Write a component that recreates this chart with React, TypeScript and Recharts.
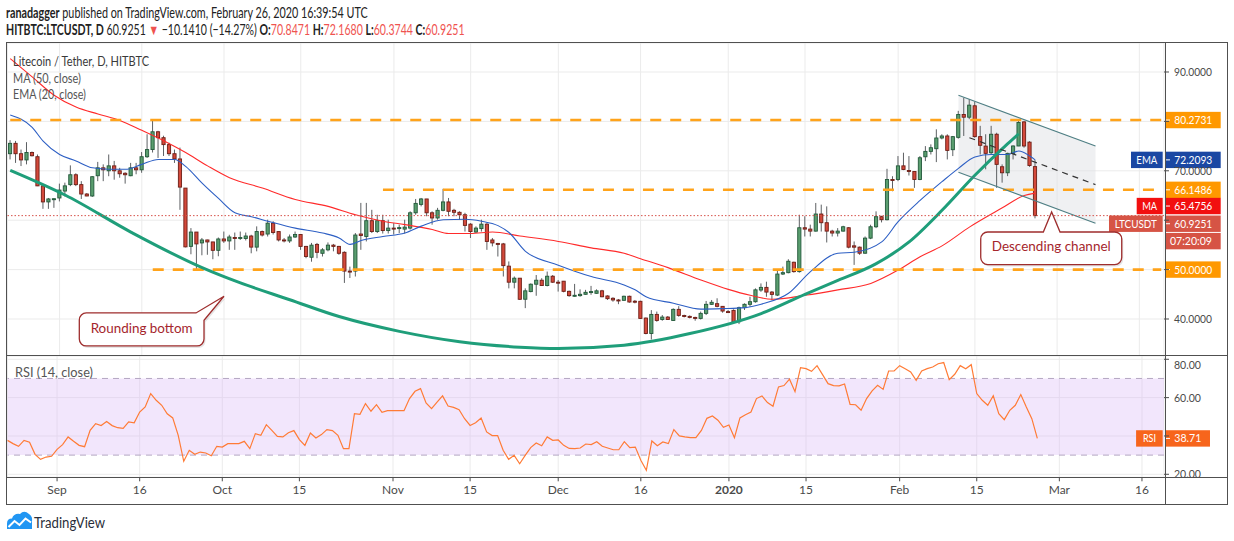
import React from 'react'
import { Area, Bar, CartesianGrid, ComposedChart, Line, ReferenceArea, ReferenceDot, ReferenceLine, XAxis, YAxis } from 'recharts'

// daily candles, 23 Aug 2019 .. 26 Feb 2020 (index 0 = 23 Aug)
const opens = [
  73.46, 75.56, 73.46, 72.2, 73.7, 72.85, 66.95, 63.7, 64.3, 64.5,
  65.9, 67.2, 69.2, 67.2, 65.3, 64.9, 69.0, 70.6, 70.0, 71.0,
  70.0, 69.5, 69.0, 70.6, 70.2, 72.85, 74.3, 77.9, 76.7, 75.3,
  73.46, 72.4, 66.5, 54.7, 57.6, 55.4, 56.0, 55.6, 53.9, 56.2,
  55.8, 56.5, 56.4, 56.3, 56.8, 54.55, 57.7, 57.2, 59.4, 57.7,
  56.0, 55.8, 56.6, 57.1, 54.7, 52.5, 55.1, 53.3, 54.0, 54.95,
  54.7, 53.5, 49.7, 49.7, 57.2, 56.7, 59.9, 57.7, 59.9, 57.9,
  58.4, 58.4, 58.2, 58.4, 61.5, 63.2, 64.3, 61.5, 60.45, 62.0,
  63.7, 62.0, 61.6, 61.1, 59.2, 57.6, 58.3, 59.2, 56.0, 55.3,
  55.2, 50.7, 47.45, 48.26, 44.0, 45.55, 47.04, 47.85, 46.77, 48.66,
  47.45, 47.65, 45.6, 44.8, 44.73, 45.0, 45.5, 45.2, 45.7, 44.66,
  44.19, 43.85, 43.78, 44.6, 43.6, 43.58, 40.19, 37.07, 40.93, 39.9,
  40.39, 39.71, 41.95, 40.7, 40.53, 40.32, 40.12, 41.14, 42.97, 43.1,
  42.56, 41.5, 41.75, 39.44, 42.29, 42.97, 43.5, 45.86, 46.4, 45.45,
  44.84, 49.1, 49.38, 51.49, 49.59, 58.47, 58.2, 57.79, 61.25, 59.49,
  57.79, 57.4, 57.79, 58.47, 54.81, 54.54, 53.32, 56.37, 58.67, 60.71,
  60.1, 68.23, 68.23, 71.0, 70.06, 69.86, 68.23, 72.84, 73.93, 74.47,
  76.64, 77.05, 74.27, 76.77, 81.39, 80.85, 83.16, 76.92, 75.0, 73.66,
  77.4, 70.82, 69.6, 73.53, 75.02, 79.9, 75.8, 70.8471,
]
const highs = [
  76.2, 76.05, 74.3, 75.8, 73.9, 73.3, 67.0, 64.5, 64.4, 67.4,
  67.6, 71.1, 69.5, 67.9, 65.5, 68.9, 71.8, 71.3, 73.3, 72.0,
  70.6, 69.7, 71.6, 71.6, 73.8, 77.4, 80.4, 78.1, 77.1, 75.7,
  74.3, 74.7, 66.5, 58.4, 57.6, 56.4, 56.05, 55.6, 56.5, 57.7,
  57.05, 57.5, 57.7, 57.5, 57.05, 58.75, 57.9, 60.1, 59.8, 57.7,
  56.4, 57.1, 57.7, 57.2, 54.8, 55.4, 55.4, 54.35, 55.5, 55.2,
  54.8, 53.7, 50.6, 57.4, 63.5, 63.5, 62.1, 61.1, 61.1, 60.1,
  59.4, 59.1, 60.1, 61.8, 64.3, 64.5, 64.3, 61.8, 62.5, 66.35,
  64.5, 62.3, 61.8, 61.5, 59.4, 58.75, 60.1, 59.4, 56.4, 55.4,
  55.4, 51.65, 48.6, 48.26, 46.2, 47.2, 48.9, 48.26, 49.6, 48.9,
  47.9, 47.7, 45.75, 47.1, 46.0, 45.9, 46.7, 46.0, 45.9, 44.8,
  44.4, 44.05, 44.73, 44.73, 43.85, 43.7, 40.3, 41.8, 41.5, 40.8,
  40.6, 42.15, 42.6, 40.87, 40.73, 40.46, 41.5, 43.65, 43.85, 44.19,
  42.63, 41.82, 41.95, 42.5, 43.17, 44.5, 46.2, 47.2, 47.55, 45.66,
  49.93, 50.6, 52.1, 51.6, 61.1, 60.8, 59.1, 63.49, 63.15, 62.8,
  58.06, 58.4, 58.87, 58.6, 55.69, 54.67, 56.7, 59.08, 61.79, 60.9,
  70.4, 68.9, 72.98, 73.66, 72.98, 69.9, 72.98, 75.0, 75.35, 78.4,
  77.39, 77.39, 77.05, 82.13, 84.8, 84.5, 84.0, 79.1, 77.4, 79.1,
  77.7, 71.3, 73.66, 75.16, 80.45, 80.1, 76.0, 72.168,
]
const lows = [
  72.3, 71.6, 70.96, 71.3, 72.9, 66.9, 62.3, 62.3, 62.5, 63.8,
  64.8, 66.9, 66.9, 64.3, 64.85, 64.7, 67.9, 67.9, 68.9, 68.2,
  68.6, 67.4, 68.9, 69.3, 69.6, 72.6, 73.7, 72.6, 73.0, 73.0,
  71.6, 62.1, 54.5, 53.1, 50.1, 52.9, 53.0, 52.1, 52.7, 55.4,
  54.0, 54.0, 56.0, 55.9, 53.3, 53.7, 56.7, 56.7, 57.1, 55.7,
  55.5, 55.4, 56.4, 54.0, 52.3, 51.6, 52.3, 52.65, 53.7, 53.7,
  53.0, 47.3, 48.3, 48.6, 54.0, 55.7, 57.4, 57.4, 57.3, 57.3,
  57.1, 57.4, 57.3, 58.1, 61.1, 62.8, 60.8, 59.1, 60.1, 61.8,
  60.8, 60.8, 60.1, 57.7, 56.4, 57.4, 57.7, 54.0, 54.7, 52.65,
  48.6, 46.2, 46.2, 43.85, 42.2, 45.4, 44.7, 46.7, 46.6, 47.3,
  45.55, 45.4, 44.5, 44.5, 44.5, 44.9, 44.9, 45.1, 44.4, 43.85,
  43.5, 43.0, 43.7, 43.3, 43.17, 40.0, 36.9, 35.85, 39.45, 39.65,
  39.8, 39.65, 40.46, 40.32, 40.12, 39.65, 39.9, 40.8, 42.83, 42.36,
  41.27, 41.27, 39.24, 38.97, 41.82, 42.5, 43.3, 45.5, 44.5, 43.8,
  44.64, 48.9, 49.25, 49.38, 49.38, 56.7, 56.7, 57.7, 57.7, 55.49,
  56.7, 56.7, 57.7, 54.3, 50.95, 52.98, 53.18, 56.16, 58.4, 59.55,
  59.96, 65.86, 67.9, 70.13, 69.05, 66.54, 68.1, 71.96, 73.3, 71.76,
  76.37, 72.3, 72.98, 76.5, 77.05, 80.44, 76.7, 73.3, 70.3, 73.3,
  66.55, 67.6, 68.92, 72.3, 75.0, 74.68, 70.8, 60.3744,
]
const closes = [
  75.56, 73.46, 72.2, 73.7, 73.05, 66.95, 63.7, 64.3, 64.35, 66.1,
  66.95, 69.2, 67.2, 65.3, 64.9, 68.8, 70.6, 70.2, 71.0, 70.0,
  69.4, 69.2, 70.6, 70.2, 72.85, 74.3, 77.9, 76.7, 75.3, 73.46,
  72.4, 66.7, 54.6, 57.6, 55.2, 56.0, 55.6, 53.9, 56.2, 55.8,
  56.6, 56.4, 56.5, 56.8, 54.55, 57.7, 57.0, 59.4, 57.5, 56.0,
  55.8, 56.6, 57.1, 54.7, 52.65, 54.95, 53.5, 54.0, 54.95, 54.7,
  53.3, 49.7, 49.6, 57.0, 56.9, 59.9, 57.7, 59.9, 57.9, 58.4,
  58.35, 58.5, 58.6, 61.5, 63.4, 64.3, 61.5, 60.45, 62.0, 63.7,
  61.8, 61.6, 61.1, 58.95, 57.7, 58.4, 59.2, 55.7, 55.4, 55.15,
  50.8, 47.45, 48.26, 43.99, 45.7, 47.04, 47.85, 46.77, 48.66, 47.45,
  47.4, 45.6, 44.73, 44.8, 45.0, 45.4, 45.55, 45.7, 44.5, 44.12,
  43.85, 43.8, 44.6, 43.44, 43.55, 40.12, 37.07, 40.93, 39.71, 40.39,
  39.9, 41.95, 40.73, 40.6, 40.32, 40.3, 41.14, 42.97, 43.38, 42.56,
  41.61, 41.45, 39.44, 42.29, 42.97, 43.5, 45.9, 46.4, 45.45, 44.98,
  49.1, 49.38, 51.69, 49.59, 58.47, 58.2, 57.79, 61.25, 59.49, 57.79,
  57.4, 57.79, 58.67, 54.54, 54.54, 53.32, 56.37, 58.67, 60.71, 60.1,
  68.23, 68.2, 71.0, 70.27, 69.86, 68.23, 72.64, 73.93, 74.67, 76.64,
  77.05, 74.13, 76.91, 81.39, 80.85, 83.29, 76.92, 75.16, 73.53, 77.4,
  71.3, 69.6, 73.53, 75.02, 79.77, 75.02, 71.07, 60.9251,
]
const rsiValues = [
  37.7, 36.0, 34.6, 37.7, 36.7, 30.4, 27.8, 29.0, 29.4, 33.0,
  35.5, 39.5, 37.2, 35.1, 34.4, 42.9, 46.4, 45.4, 47.5, 45.4,
  44.3, 44.0, 47.3, 46.9, 52.5, 55.1, 62.1, 58.6, 56.0, 51.6,
  49.4, 40.3, 26.8, 32.5, 30.4, 31.6, 31.1, 29.7, 34.6, 34.2,
  36.0, 36.0, 36.0, 37.2, 33.4, 41.2, 40.3, 45.9, 42.9, 39.8,
  39.5, 41.7, 42.8, 38.1, 35.1, 41.5, 38.9, 40.7, 43.3, 42.8,
  40.3, 33.4, 33.4, 51.6, 51.3, 56.9, 52.9, 56.3, 52.3, 53.2,
  53.2, 53.2, 53.2, 59.5, 63.3, 64.7, 57.2, 54.3, 57.7, 60.9,
  55.6, 54.9, 53.7, 49.0, 45.5, 46.9, 49.4, 42.1, 40.2, 40.2,
  32.5, 27.8, 29.9, 25.5, 29.9, 33.9, 36.3, 34.9, 39.5, 37.7,
  37.9, 35.1, 33.5, 33.4, 33.7, 35.8, 35.5, 37.0, 34.6, 33.7,
  32.8, 32.8, 37.0, 33.9, 34.2, 27.3, 22.1, 37.4, 34.9, 36.9,
  36.0, 43.3, 40.0, 39.5, 39.1, 39.1, 42.9, 49.2, 50.4, 48.2,
  44.5, 45.7, 39.1, 49.4, 51.1, 52.5, 59.5, 60.9, 57.4, 55.5,
  65.6, 66.3, 69.6, 63.1, 75.6, 75.1, 73.7, 76.7, 72.0, 67.3,
  66.3, 66.1, 67.1, 56.5, 56.3, 53.4, 59.5, 63.5, 66.4, 64.3,
  73.9, 73.9, 76.7, 75.1, 73.4, 69.0, 73.9, 75.1, 76.0, 77.7,
  78.3, 69.4, 72.2, 76.7, 75.1, 77.2, 62.1, 58.6, 56.0, 61.0,
  51.6, 48.5, 53.4, 56.0, 61.6, 55.1, 49.0, 38.71,
]

// [index, value] readings of the indicator lines and drawings
const maPoints = [
  [0, 92.7], [4, 89.0], [8, 85.3], [12, 82.9], [16, 81.5], [20, 80.2], [24, 78.2], [28, 76.1],
  [32, 73.7], [36, 71.0], [40, 68.6], [46, 66.5], [52, 64.2], [58, 62.8], [63, 61.1], [68, 59.8],
  [72, 59.1], [77, 58.1], [80, 57.3], [84, 57.3], [88, 57.6], [93, 56.8], [100, 55.7], [106, 54.4],
  [112, 53.3], [115, 52.2], [120, 50.4], [126, 47.9], [131, 46.0], [135, 44.8], [139, 44.0],
  [145, 44.8], [151, 45.9], [157, 47.2], [162, 49.9], [166, 52.6], [170, 54.8], [175, 58.6],
  [181, 62.5], [185, 65.0], [187, 65.4756],
]
const emaPoints = [
  [0, 81.3], [4, 78.8], [6, 76.0], [9, 73.3], [12, 72.0], [15, 70.6], [18, 70.3], [21, 70.3],
  [24, 71.3], [27, 72.3], [30, 72.3], [32, 70.9], [35, 67.5], [38, 64.4], [41, 61.5], [44, 60.7],
  [47, 59.8], [52, 58.4], [57, 57.4], [60, 56.4], [62, 55.1], [64, 55.9], [68, 56.7], [72, 57.4],
  [75, 58.8], [79, 60.1], [83, 60.2], [86, 59.8], [89, 58.9], [91, 57.5], [94, 53.7], [100, 50.9],
  [106, 48.6], [112, 46.9], [114, 45.9], [116, 44.5], [121, 43.2], [126, 42.0], [130, 42.1],
  [134, 42.3], [137, 43.0], [142, 45.2], [146, 49.6], [151, 53.3], [154, 53.5], [159, 55.6],
  [162, 59.7], [166, 64.0], [170, 67.8], [173, 70.5], [176, 72.8], [179, 73.3], [182, 73.3],
  [184, 74.0], [186, 73.0], [187, 72.2093],
]
const roundingBottom = [
  [0, 70.1], [10, 65.1], [22, 57.6], [35, 50.4], [42, 47.3], [51, 43.9], [60, 40.5], [71, 37.5],
  [82, 35.4], [93, 34.3], [100, 34.05], [112, 34.7], [124, 37.05], [137, 41.1], [145, 45.0],
  [151, 47.8], [158, 51.2], [164, 55.6], [170, 62.0], [176, 69.1], [182, 75.5], [184, 77.5],
]
const channelTop = [[173, 85.3], [198, 75.0]]
const channelBottom = [[173, 69.7], [198, 59.4]]
const channelMid = [[175, 76.7], [198, 67.2]]
const levelValues = [80.2731, 66.1486, 50.0]
const levelStarts = [0, 68, 26]

const tickIdx = [9, 24, 39, 53, 70, 84, 100, 115, 131, 145, 162, 176, 191, 206]
const tickText = ['Sep', '16', 'Oct', '15', 'Nov', '15', 'Dec', '16', '2020', '15', 'Feb', '15', 'Mar', '16']
const priceTicks = [40, 50, 60, 70, 80, 90]
const rsiTicks = [20, 40, 60, 80]

const SLOTS = 211
const lastClose = closes[closes.length - 1]
const lastRsi = rsiValues[rsiValues.length - 1]
const lastMa = maPoints[maPoints.length - 1][1]
const lastEma = emaPoints[emaPoints.length - 1][1]

const lookup = (pts: number[][]) => {
  const m = new Map(pts.map(([i, v]) => [i, v]))
  return (i: number) => (m.has(i) ? m.get(i) : null)
}
const maAt = lookup(maPoints)
const emaAt = lookup(emaPoints)
const curveAt = lookup(roundingBottom)
const topAt = lookup(channelTop)
const botAt = lookup(channelBottom)
const midAt = lookup(channelMid)

const rows = Array.from({ length: SLOTS }, (_, i) => {
  const has = i < closes.length
  const t = topAt(i)
  const b = botAt(i)
  const row: any = {
    i,
    range: has ? [lows[i], highs[i]] : null,
    o: has ? opens[i] : null,
    h: has ? highs[i] : null,
    l: has ? lows[i] : null,
    c: has ? closes[i] : null,
    ma: maAt(i),
    ema: emaAt(i),
    curve: curveAt(i),
    chTop: t,
    chBot: b,
    chMid: midAt(i),
    band: t != null && b != null ? [b, t] : null,
    rsi: has ? rsiValues[i] : null,
  }
  levelValues.forEach((v, k) => {
    row['lv' + k] = i === levelStarts[k] || i === SLOTS - 1 ? v : null
  })
  return row
})

const UP = '#5a9e6f'
const UP_EDGE = '#22583a'
const DOWN = '#d3493b'
const DOWN_EDGE = '#6d1e16'
const WICK = '#5c5f62'
const ORANGE = '#ff9800'
const FONT = 'Lato, "Open Sans", sans-serif'

function Candle(props: any) {
  const { x, y, width, height, payload } = props
  if (!payload || payload.o == null) return null
  const top = Math.min(y, y + height)
  const bottom = Math.max(y, y + height)
  const k = (bottom - top) / Math.max(payload.h - payload.l, 1e-6)
  const yO = top + (payload.h - payload.o) * k
  const yC = top + (payload.h - payload.c) * k
  const up = payload.c >= payload.o
  const cx = x + width / 2
  const bTop = Math.min(yO, yC)
  const bH = Math.max(Math.abs(yO - yC), 1)
  return (
    <g>
      <line x1={cx} x2={cx} y1={top} y2={bottom} stroke={WICK} strokeWidth={1} />
      <rect x={cx - 1.6} y={bTop} width={3.2} height={bH} fill={up ? UP : DOWN} stroke={up ? UP_EDGE : DOWN_EDGE} strokeWidth={0.9} />
    </g>
  )
}

const hiddenPriceTicks = [50, 60, 80]
function PriceTick(p: any) {
  const v = p.payload.value
  if (hiddenPriceTicks.includes(v)) return <g />
  return (
    <text x={p.x} y={p.y} dy={4} fontSize={11} fill="#4a4a4a" fontFamily={FONT} textLength={38} lengthAdjust="spacingAndGlyphs">
      {v.toFixed(4)}
    </text>
  )
}
function RsiTick(p: any) {
  const v = p.payload.value
  if (v === 40) return <g />
  return (
    <text x={p.x} y={p.y} dy={4} fontSize={11} fill="#4a4a4a" fontFamily={FONT} textLength={27} lengthAdjust="spacingAndGlyphs">
      {v.toFixed(2)}
    </text>
  )
}
function TimeTick(p: any) {
  const k = tickIdx.indexOf(p.payload.value)
  const t = tickText[k]
  return (
    <text x={p.x} y={p.y} dy={11} textAnchor="middle" fontSize={12} fill="#4a4a4a" fontFamily={FONT} fontWeight={t === '2020' ? 700 : 400}>
      {t}
    </text>
  )
}

// squeezes a natural-width text line into a given width (the reference uses a condensed face)
function FitText({ x, y, width, children, ...rest }: any) {
  const ref = React.useRef<SVGTextElement>(null)
  const [s, setS] = React.useState(1)
  React.useLayoutEffect(() => {
    if (ref.current) {
      const w = ref.current.getComputedTextLength()
      if (w > 0) setS(width / w)
    }
  }, [width])
  return (
    <g transform={`translate(${x},${y}) scale(${s},1)`}>
      <text ref={ref} x={0} y={0} {...rest}>{children}</text>
    </g>
  )
}

type Tag = { text: string; bg: string; w: number; len: number; dy?: number; side?: string; sideW?: number; sideLen?: number; extra?: string }
const tagLabel = (t: Tag) => (props: any) => {
  const vb = props.viewBox
  if (!vb) return null
  const right = vb.x + vb.width
  const cy = vb.y + (t.dy || 0)
  const H = 16.4
  const bx = right + 1
  return (
    <g fontFamily={FONT}>
      {t.side ? (
        <g>
          <rect x={right - 1.3 - (t.sideW || 0)} y={cy - H / 2} width={t.sideW} height={H} fill={t.bg} />
          <text x={right - 1.3 - (t.sideW || 0) / 2} y={cy + 4} textAnchor="middle" fill="#fff" fontSize={11.5} textLength={t.sideLen} lengthAdjust="spacingAndGlyphs">{t.side}</text>
        </g>
      ) : null}
      <rect x={bx} y={cy - H / 2} width={t.w} height={H} fill={t.bg} />
      <line x1={bx + 1} x2={bx + 5} y1={cy} y2={cy} stroke="#fff" />
      <text x={bx + 9.3} y={cy + 4} fill="#fff" fontSize={11.5} textLength={t.len} lengthAdjust="spacingAndGlyphs">{t.text}</text>
      {t.extra ? (
        <g>
          <rect x={bx} y={cy + H / 2 + 1} width={t.w} height={H} fill={t.bg} />
          <text x={bx + 5} y={cy + H + 5} fill="#fff" fontSize={11.5} textLength={42} lengthAdjust="spacingAndGlyphs">{t.extra}</text>
        </g>
      ) : null}
    </g>
  )
}

const CALLOUT_STROKE = '#9e2d2d'
const CALLOUT_TEXT = '#a5262d'

function RoundingCallout(p: any) {
  const { cx, cy } = p
  const L = cx - 144.7, R = cx - 20, T = cy + 16.7, B = cy + 49.7, r = 7
  const d = `M${L + r},${T} H${R - 8} L${cx},${cy} L${R},${T + 7.3} V${B - r} A${r},${r} 0 0 1 ${R - r},${B} H${L + r} A${r},${r} 0 0 1 ${L},${B - r} V${T + r} A${r},${r} 0 0 1 ${L + r},${T} Z`
  return (
    <g fontFamily={FONT}>
      <path d={d} transform="translate(1.5,2)" fill="#000" fillOpacity={0.1} />
      <path d={d} fill="#fff" stroke={CALLOUT_STROKE} strokeWidth={1.3} />
      <text x={(L + R) / 2} y={T + 20.5} textAnchor="middle" fontSize={14} fill={CALLOUT_TEXT} textLength={102} lengthAdjust="spacingAndGlyphs">Rounding bottom</text>
    </g>
  )
}

function ChannelCallout(p: any) {
  const { cx, cy } = p
  const L = cx - 70.9, R = cx + 70.1, T = cy + 20, B = cy + 52.6, r = 7
  const d = `M${L + r},${T} H${cx - 8.3} L${cx},${cy} L${cx + 8.4},${T} H${R - r} A${r},${r} 0 0 1 ${R},${T + r} V${B - r} A${r},${r} 0 0 1 ${R - r},${B} H${L + r} A${r},${r} 0 0 1 ${L},${B - r} V${T + r} A${r},${r} 0 0 1 ${L + r},${T} Z`
  return (
    <g fontFamily={FONT}>
      <path d={d} transform="translate(1.5,2)" fill="#000" fillOpacity={0.1} />
      <path d={d} fill="#fff" stroke={CALLOUT_STROKE} strokeWidth={1.3} />
      <text x={(L + R) / 2} y={T + 19.5} textAnchor="middle" fontSize={14} fill={CALLOUT_TEXT} textLength={119} lengthAdjust="spacingAndGlyphs">Descending channel</text>
    </g>
  )
}

const RED = '#ef5350'

export default function App() {
  const priceTags: { value: number; tag: Tag }[] = [
    { value: levelValues[0], tag: { text: levelValues[0].toFixed(4), bg: ORANGE, w: 55.7, len: 38 } },
    { value: lastEma, tag: { text: lastEma.toFixed(4), bg: '#1a47a3', w: 55.7, len: 38, side: 'EMA', sideW: 31.7, sideLen: 21 } },
    { value: levelValues[1], tag: { text: levelValues[1].toFixed(4), bg: ORANGE, w: 55.7, len: 38 } },
    { value: lastMa, tag: { text: lastMa.toFixed(4), bg: '#f20f0f', w: 55.7, len: 38, dy: 12.9, side: 'MA', sideW: 26, sideLen: 15 } },
    { value: lastClose, tag: { text: lastClose.toFixed(4), bg: '#d65445', w: 55.7, len: 38, dy: 8.1, side: 'LTCUSDT', sideW: 53.7, sideLen: 42, extra: '07:20:09' } },
    { value: levelValues[2], tag: { text: levelValues[2].toFixed(4), bg: ORANGE, w: 55.7, len: 38 } },
  ]

  return (
    <div style={{ position: 'absolute', left: 0, top: 0, width: 1234, height: 541, background: '#fff', fontFamily: FONT, overflow: 'hidden' }}>
      <div style={{ position: 'absolute', left: 0, top: 42.7 }}>
        <ComposedChart width={1234} height={312.8} data={rows} margin={{ top: 0, right: 7, bottom: 0, left: 7.5 }}>
          <CartesianGrid stroke="#ebebeb" />
          <XAxis dataKey="i" hide ticks={tickIdx} interval={0} />
          <YAxis
            orientation="right"
            width={63}
            domain={[32.55, 95.87]}
            ticks={priceTicks}
            allowDataOverflow
            tick={<PriceTick />}
            tickSize={5}
            tickMargin={5}
            tickLine={{ stroke: '#4a4a4a' }}
            axisLine={false}
          />
          <Area dataKey="band" type="linear" connectNulls stroke="none" fill="#dfe1e6" fillOpacity={0.5} isAnimationActive={false} />
          <Bar dataKey="range" shape={Candle} isAnimationActive={false} />
          <Line dataKey="ma" type="monotone" connectNulls stroke="#ff2b2b" strokeWidth={1.1} dot={false} isAnimationActive={false} />
          <Line dataKey="ema" type="monotone" connectNulls stroke="#2d5fc4" strokeWidth={1.1} dot={false} isAnimationActive={false} />
          {levelValues.map((_, k) => (
            <Line key={k} dataKey={'lv' + k} type="linear" connectNulls stroke="#ffa31a" strokeWidth={2.6} strokeDasharray="11 9" dot={false} isAnimationActive={false} />
          ))}
          <Line dataKey="curve" type="monotone" connectNulls stroke="#1f9e7a" strokeWidth={3} dot={false} isAnimationActive={false} />
          <Line dataKey="chTop" type="linear" connectNulls stroke="#4f7f84" strokeWidth={1.1} dot={false} isAnimationActive={false} />
          <Line dataKey="chBot" type="linear" connectNulls stroke="#4f7f84" strokeWidth={1.1} dot={false} isAnimationActive={false} />
          <Line dataKey="chMid" type="linear" connectNulls stroke="#333" strokeWidth={1.2} strokeDasharray="6 5" dot={false} isAnimationActive={false} />
          <ReferenceLine y={lastClose} stroke="#d6524a" strokeDasharray="1.5 2" />
          {priceTags.map((t, k) => (
            <ReferenceLine key={'t' + k} y={t.value} stroke="transparent" label={tagLabel(t.tag)} />
          ))}
          <ReferenceDot x={39} y={44.6} r={0} shape={RoundingCallout} />
          <ReferenceDot x={190} y={61.66} r={0} shape={ChannelCallout} />
        </ComposedChart>
      </div>

      <div style={{ position: 'absolute', left: 0, top: 355.7 }}>
        <ComposedChart width={1234} height={148.3} data={rows} margin={{ top: 0, right: 7, bottom: 0, left: 7.5 }}>
          <CartesianGrid stroke="#ebebeb" />
          <ReferenceArea y1={30} y2={70} fill="#d9b6f6" fillOpacity={0.35} stroke="none" />
          <ReferenceLine y={70} stroke="#b4a7c2" strokeDasharray="6 5" />
          <ReferenceLine y={30} stroke="#b4a7c2" strokeDasharray="6 5" />
          <XAxis
            dataKey="i"
            ticks={tickIdx}
            interval={0}
            height={27}
            tick={<TimeTick />}
            tickSize={4}
            tickMargin={2}
            tickLine={{ stroke: '#4a4a4a' }}
            axisLine={false}
          />
          <YAxis
            orientation="right"
            width={63}
            domain={[18.43, 81.72]}
            ticks={rsiTicks}
            allowDataOverflow
            tick={<RsiTick />}
            tickSize={5}
            tickMargin={5}
            tickLine={{ stroke: '#4a4a4a' }}
            axisLine={false}
          />
          <Line dataKey="rsi" type="linear" stroke="#ff7b36" strokeWidth={1.2} dot={false} isAnimationActive={false} />
          <ReferenceLine y={lastRsi} stroke="transparent" label={tagLabel({ text: lastRsi.toFixed(2), bg: '#f7651c', w: 45, len: 27, side: 'RSI', sideW: 26.6, sideLen: 13 })} />
        </ComposedChart>
      </div>

      <svg width={1234} height={541} style={{ position: 'absolute', left: 0, top: 0, pointerEvents: 'none' }} fontFamily={FONT}>
        <rect x={6.5} y={42.5} width={1221} height={462} fill="none" stroke="#505050" />
        <line x1={6.5} x2={1227.5} y1={355.5} y2={355.5} stroke="#505050" />
        <line x1={6.5} x2={1227.5} y1={477.5} y2={477.5} stroke="#505050" />
        <line x1={1165.5} x2={1165.5} y1={42.5} y2={504.5} stroke="#505050" />

        <FitText x={6} y={18} width={362} fontSize={14.5} fill="#222">
          <tspan fontWeight={700}>ranadagger</tspan> published on TradingView.com, February 26, 2020 16:39:54 UTC
        </FitText>
        <FitText x={6} y={35} width={459} fontSize={14.5} fill="#222">
          <tspan fontWeight={700}>HITBTC:LTCUSDT, D</tspan> 60.9251 <tspan fill={RED}>▼</tspan> −10.1410 (−14.27%){' '}
          <tspan fontWeight={700}>O:</tspan><tspan fill={RED}>70.8471</tspan>{' '}
          <tspan fontWeight={700}>H:</tspan><tspan fill={RED}>72.1680</tspan>{' '}
          <tspan fontWeight={700}>L:</tspan><tspan fill={RED}>60.3744</tspan>{' '}
          <tspan fontWeight={700}>C:</tspan><tspan fill={RED}>60.9251</tspan>
        </FitText>

        <text x={13} y={66} fontSize={13.5} fill="#3a3a3a" textLength={136} lengthAdjust="spacingAndGlyphs">Litecoin / Tether, D, HITBTC</text>
        <text x={13} y={82.5} fontSize={13.5} fill="#555" textLength={68} lengthAdjust="spacingAndGlyphs">MA (50, close)</text>
        <text x={13} y={99} fontSize={13.5} fill="#555" textLength={73} lengthAdjust="spacingAndGlyphs">EMA (20, close)</text>
        <text x={15} y={377} fontSize={13.5} fill="#555" textLength={78} lengthAdjust="spacingAndGlyphs">RSI (14, close)</text>

        <path d="M7,529 L7,523.5 Q7,518.5 12,518.5 Q14,513 20,514 Q24,509.5 29,514 Q33,516.5 32,522 L32,529 Z" fill="#2196f3" />
        <polyline points="8.5,527 14.5,521 19.5,525 25.5,518.5 31,522.5" fill="none" stroke="#fff" strokeWidth={2} />
        <text x={34} y={528} fontSize={15.5} fill="#2a2e39" textLength={71} lengthAdjust="spacingAndGlyphs">TradingView</text>
      </svg>
    </div>
  )
}
